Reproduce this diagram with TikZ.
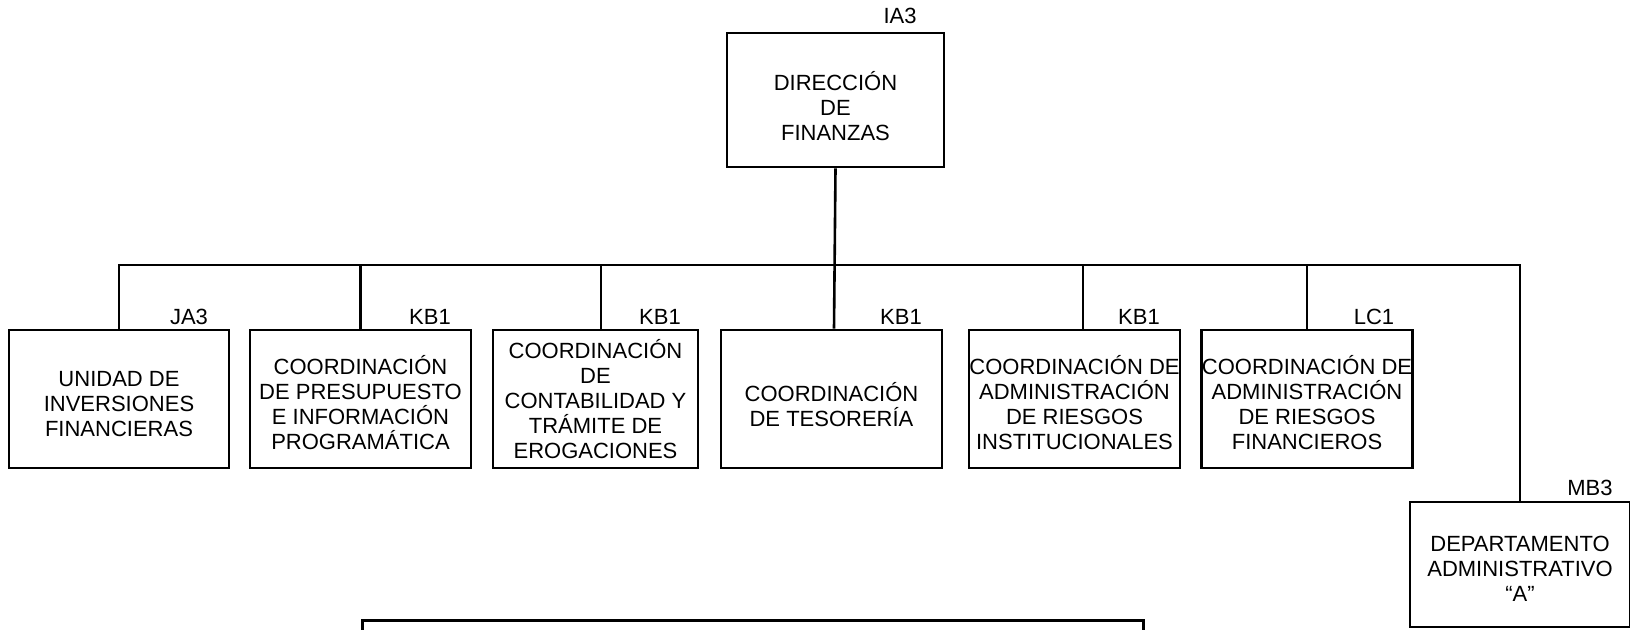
\documentclass[tikz,border=0pt]{standalone}
\usepackage{fontspec}
\setmainfont{Liberation Sans}
\newcommand{\toprule}[1]{\rule{0pt}{#1}}
\begin{document}
\begin{tikzpicture}[x=1pt,y=-1pt,
  orgbox/.style={draw=black, line width=2.8pt, fill=white, inner sep=0pt, align=center,
    font=\fontsize{22}{25}\selectfont},
  codelbl/.style={inner sep=0pt, font=\fontsize{22}{25}\selectfont},
  conn/.style={draw=black, line width=2.6pt}]
\useasboundingbox[fill=white] (0,0) rectangle (1630,629);
% top box
\node[orgbox, minimum width=217pt, minimum height=134pt] (dir) at (835.5,100) {\toprule{32pt}DIRECCIÓN\\DE\\FINANZAS};
\node[codelbl] (lia) at (900,16) {IA3};
% second row
\node[orgbox, minimum width=220pt, minimum height=138pt] (uni) at (119,399) {\toprule{26pt}UNIDAD DE\\INVERSIONES\\FINANCIERAS};
\node[orgbox, minimum width=221pt, minimum height=138pt] (pre) at (360.5,399) {\toprule{26pt}COORDINACIÓN\\DE PRESUPUESTO\\E INFORMACIÓN\\PROGRAMÁTICA};
\node[orgbox, minimum width=205pt, minimum height=138pt] (con) at (595.5,399) {\toprule{20pt}COORDINACIÓN\\DE\\CONTABILIDAD Y\\TRÁMITE DE\\EROGACIONES};
\node[orgbox, minimum width=221pt, minimum height=138pt] (tes) at (831.5,399) {\toprule{30pt}COORDINACIÓN\\DE TESORERÍA};
\node[orgbox, minimum width=211pt, minimum height=138pt] (ins) at (1074.5,399) {\toprule{26pt}COORDINACIÓN DE\\ADMINISTRACIÓN\\DE RIESGOS\\INSTITUCIONALES};
\node[orgbox, minimum width=208pt, minimum height=138pt] (fin) at (1307,399) {\toprule{26pt}COORDINACIÓN DE\\ADMINISTRACIÓN\\DE RIESGOS\\FINANCIEROS};
\node[orgbox, minimum width=220pt, minimum height=125pt] (dep) at (1520,564.5) {\toprule{23pt}DEPARTAMENTO\\ADMINISTRATIVO\\“A”};
\node[orgbox, minimum width=781pt, minimum height=40pt, anchor=north west] (nota) at (361,619) {};
% codes
\node[codelbl] (lju) at (189,317) {JA3};
\node[codelbl] (lpr) at (430,317) {KB1};
\node[codelbl] (lco) at (660,317) {KB1};
\node[codelbl] (lte) at (901,317) {KB1};
\node[codelbl] (lin) at (1139,317) {KB1};
\node[codelbl] (lfi) at (1374,317) {LC1};
\node[codelbl] (lde) at (1590,488) {MB3};
% connectors
\coordinate (bar) at (835,265);
\draw[conn] (dir.south) -- ([xshift=-1.5pt]dir.south |- tes.north);
\draw[conn] (uni.north) -- (uni.north |- bar) -- (bar -| dep.north) -- (dep.north);
\draw[conn] (pre.north) -- (pre.north |- bar);
\draw[conn] ([xshift=5.5pt]con.north) -- ([xshift=5.5pt]con.north |- bar);
\draw[conn] ([xshift=8.5pt]ins.north) -- ([xshift=8.5pt]ins.north |- bar);
\draw[conn] (fin.north) -- (fin.north |- bar);
\end{tikzpicture}
\end{document}
